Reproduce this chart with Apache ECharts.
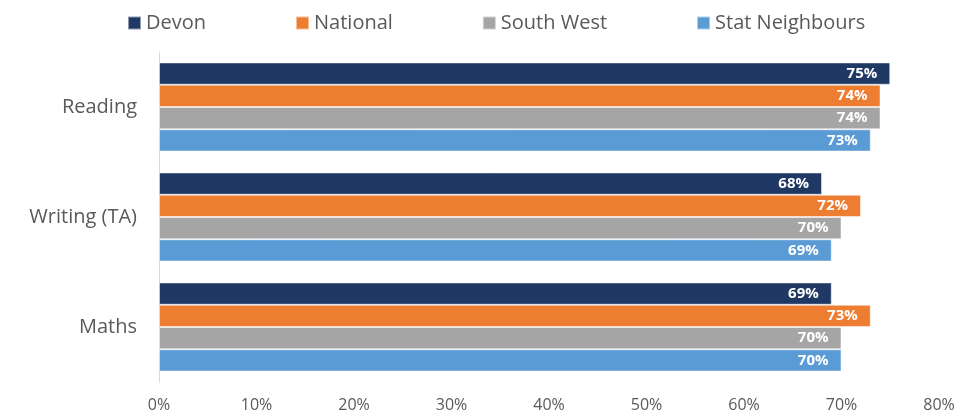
<!DOCTYPE html>
<html>
<head>
<meta charset="utf-8">
<script src="https://cdn.jsdelivr.net/npm/echarts@6/dist/echarts.min.js"></script>
<style>
  html, body { margin: 0; padding: 0; background: #fff; }
  #chart { width: 973px; height: 416px; }
</style>
</head>
<body>
<div id="chart"></div>
<script>
var categories = ['Reading', 'Writing (TA)', 'Maths'];
var seriesNames = ['Devon', 'National', 'South West', 'Stat Neighbours'];
var seriesColors = ['#1F3864', '#ED7D31', '#A5A5A5', '#5B9BD5'];
var devon = [75, 68, 69];
var national = [74, 72, 73];
var southWest = [74, 70, 70];
var statNeighbours = [73, 69, 70];
var values = [devon, national, southWest, statNeighbours];

var chart = echarts.init(document.getElementById('chart'));
var font = '"Open Sans", "Noto Sans", sans-serif';

var option = {
  textStyle: { fontFamily: font },
  animation: false,
  legend: {
    top: 8,
    left: 122,
    itemWidth: 13,
    itemHeight: 13,
    itemGap: 89,
    icon: 'rect',
    textStyle: { fontSize: 20, color: '#595959', fontFamily: font },
    data: seriesNames
  },
  grid: { left: 159, right: 34, top: 52, bottom: 34 },
  xAxis: {
    type: 'value',
    min: 0,
    max: 80,
    interval: 10,
    axisLine: { show: false },
    axisTick: { show: false },
    splitLine: { show: false },
    axisLabel: {
      formatter: '{value}%',
      fontSize: 16,
      color: '#595959',
      margin: 15,
      fontFamily: font
    }
  },
  yAxis: {
    type: 'category',
    data: categories,
    inverse: true,
    axisTick: { show: false },
    axisLine: { lineStyle: { color: '#D9D9D9', width: 1 } },
    axisLabel: { fontSize: 20, color: '#595959', margin: 22, fontFamily: font }
  },
  series: seriesNames.map(function (name, i) {
    return {
      name: name,
      type: 'bar',
      data: values[i],
      barGap: '0%',
      barCategoryGap: '19%',
      itemStyle: { color: seriesColors[i], borderColor: 'rgba(255,255,255,0.5)', borderWidth: 1 },
      label: {
        show: true,
        position: 'insideRight',
        distance: 13,
        formatter: '{c}%',
        color: '#fff',
        fontWeight: 'bold',
        fontSize: 15,
        fontFamily: font
      }
    };
  })
};

chart.setOption(option);
</script>
</body>
</html>
